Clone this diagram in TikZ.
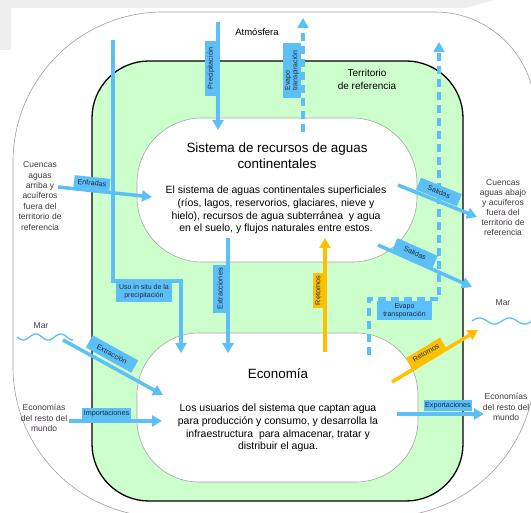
\documentclass[tikz,border=0pt]{standalone}
\usepackage{fontspec}
\setmainfont{Liberation Sans}
\usetikzlibrary{arrows.meta}
\definecolor{flowblue}{RGB}{92,192,246}
\definecolor{floworange}{RGB}{255,192,0}
\definecolor{terrgreen}{RGB}{204,255,204}
\definecolor{sidetext}{RGB}{64,56,64}
\definecolor{labtext}{RGB}{30,40,70}
\definecolor{faintgray}{RGB}{238,238,238}
\begin{document}
\begin{tikzpicture}[x=1pt,y=-1pt,
  flow/.style={draw=flowblue, line width=3.5pt, -{Triangle[length=10pt,width=11pt]}},
  flowo/.style={flow, draw=floworange},
  dashflow/.style={flow, dash pattern=on 8pt off 5pt},
  lab/.style={fill=flowblue, inner sep=1pt, font=\fontsize{7.2}{8}\selectfont, text=labtext, align=center},
  labo/.style={lab, fill=floworange},
  side/.style={font=\fontsize{8.5}{10.4}\selectfont, text=sidetext, align=center},
  wave/.style={draw=flowblue, line width=1.3pt},
  whitebox/.style={draw=gray!70, line width=0.6pt, fill=white, inner sep=0pt},
]
\useasboundingbox (0,0) rectangle (531,513);
\fill[white] (0,0) rectangle (531,513);
% faint background band
\fill[faintgray] (0,0) -- (495,0) -- (465,8) -- (11,8) -- (11,50) -- (0,50) -- cycle;

% outer atmosphere shape
\draw[gray!75, line width=0.6pt]
  (13,162) .. controls (13,79.2) and (80.2,12) .. (163,12)
  -- (435,12) .. controls (490.2,12) and (535,56.8) .. (535,112)
  -- (535,367) .. controls (535,449.8) and (467.8,517) .. (385,517)
  -- (163,517) .. controls (80.2,517) and (13,449.8) .. (13,367) -- cycle;

% territory
\node[draw=black, line width=1.3pt, fill=terrgreen, rounded corners=57pt,
  minimum width=371pt, minimum height=440pt, inner sep=0pt] (terr) at (277.5,281) {};

% white systems
\node[whitebox, rounded corners=65pt, minimum width=280pt, minimum height=144pt] (sys) at (277,190) {};
\node[whitebox, rounded corners=62pt, minimum width=281pt, minimum height=149pt] (eco) at (277.5,407.5) {};

% coordinates
\coordinate (usoA) at (113,40);
\coordinate (usoB) at (113,281);
\coordinate (usoC) at (181,281);
\coordinate (usoD) at (181,353);
\coordinate (precA) at (218,22);
\coordinate (precB) at (218,130);
\coordinate (evA) at (303,132);
\coordinate (evB) at (303,18);
\coordinate (ev2A) at (369,355);
\coordinate (ev2B) at (369,299);
\coordinate (ev2C) at (439,299);
\coordinate (ev2D) at (439,42);
\coordinate (entA) at (58,187);
\coordinate (entB) at (152,197);
\coordinate (salA) at (398,185);
\coordinate (salB) at (477,217);
\coordinate (sal2A) at (378,245);
\coordinate (sal2B) at (472,287);
\coordinate (extsA) at (228,238);
\coordinate (extsB) at (228,353);
\coordinate (retA) at (325,352);
\coordinate (retB) at (325,238);
\coordinate (ret2A) at (392,382);
\coordinate (ret2B) at (478,330);
\coordinate (extA) at (63,340);
\coordinate (extB) at (163,395);
\coordinate (impA) at (69,421);
\coordinate (impB) at (162,421);
\coordinate (expA) at (397,414);
\coordinate (expB) at (484,414);

% arrows
\draw[flow] (usoA) -- (usoB) -- (usoC) -- (usoD);
\draw[flow] (precA) -- (precB);
\draw[dashflow] (evA) -- (evB);
\draw[dashflow] (ev2A) -- (ev2B) -- (ev2C) -- (ev2D);
\draw[flow] (entA) -- (entB);
\draw[flow] (salA) -- (salB);
\draw[flow] (sal2A) -- (sal2B);
\draw[flow] (extsA) -- (extsB);
\draw[flowo] (retA) -- (retB);
\draw[flowo] (ret2A) -- (ret2B);
\draw[flow] (extA) -- (extB);
\draw[flow] (impA) -- (impB);
\draw[flow] (expA) -- (expB);

% waves
\draw[wave] plot[domain=0:56, samples=80] ({17+\x},{337+3*sin(\x*14.4)});
\draw[wave] plot[domain=0:62, samples=80] ({472+\x},{321-3*sin(\x*12)});

% labels
\node[lab, rotate=90, minimum width=55pt, minimum height=12pt] (lprec) at (211,68.5) {Precipitación};
\node[lab, rotate=90, minimum width=55pt, minimum height=18pt, align=left,
  font=\fontsize{7}{7.6}\selectfont] (lev) at (292,70.5) {Evapo\\transpiración};
\node[lab, minimum width=56pt, minimum height=20pt, font=\fontsize{7}{8}\selectfont] (luso) at (144,292) {Uso in situ de la\\precipitación};
\node[lab, rotate=90, minimum width=48pt, minimum height=14pt] (lexts) at (220,289) {Extracciones};
\node[labo, rotate=90, minimum width=35pt, minimum height=10pt] (lret) at (318,290.5) {Retornos};
\node[lab, minimum width=55pt, minimum height=19pt, font=\fontsize{7}{8}\selectfont] (lev2) at (404.5,310.5) {Evapo\\transporación};
\node[lab, rotate=-6, minimum width=36pt, minimum height=12pt] (lent) at (92,183) {Entradas};
\node[lab, rotate=-22, minimum width=44pt, minimum height=13pt] (lsal) at (439,192) {Salidas};
\node[lab, rotate=-24, minimum width=44pt, minimum height=13pt] (lsal2) at (415,253) {Salidas};
\node[lab, rotate=-29, minimum width=52pt, minimum height=14pt] (lext) at (112,354) {Extracción};
\node[labo, rotate=31, minimum width=40pt, minimum height=12pt] (lret2) at (426,353) {Retornos};
\node[lab, minimum width=49pt, minimum height=11pt] (limp) at (106.5,413.5) {Importaciones};
\node[lab, minimum width=48pt, minimum height=11pt] (lexp) at (448,405.5) {Exportaciones};

% main texts
\node[font=\fontsize{9.5}{11}\selectfont] (atm) at (257,32) {Atmósfera};
\node[font=\fontsize{10}{13}\selectfont, align=center] (terrlab) at (367,79.5) {Territorio\\de referencia};
\node[font=\fontsize{13.4}{16}\selectfont, align=center] (systitle) at (277,156) {Sistema de recursos de aguas\\continentales};
\node[font=\fontsize{10.5}{12.8}\selectfont, align=center] (sysbody) at (276,210) {El sistema de aguas continentales superficiales\\(ríos, lagos, reservorios, glaciares, nieve y\\hielo), recursos de agua subterránea\ \ y agua\\en el suelo, y flujos naturales entre estos.};
\node[font=\fontsize{13.4}{16}\selectfont] (ecotitle) at (278,374) {Economía};
\node[font=\fontsize{10.5}{12.8}\selectfont, align=center] (ecobody) at (278,428) {Los usuarios del sistema que captan agua\\para producción y consumo, y desarrolla la\\infraestructura\ \ para almacenar, tratar y\\distribuir el agua.};

% side texts
\node[side] (cuencasL) at (40,196) {Cuencas\\aguas\\arriba y\\acuíferos\\fuera del\\territorio de\\referencia};
\node[side, font=\fontsize{8.5}{10}\selectfont] (cuencasR) at (503,208) {Cuencas\\aguas abajo\\y acuíferos\\fuera del\\territorio de\\referencia};
\node[side] (marL) at (41,326) {Mar};
\node[side] (marR) at (503,303) {Mar};
\node[side] (ecoL) at (44,418) {Economías\\del resto del\\mundo};
\node[side] (ecoR) at (506,407) {Economías\\del resto del\\mundo};
\end{tikzpicture}
\end{document}
